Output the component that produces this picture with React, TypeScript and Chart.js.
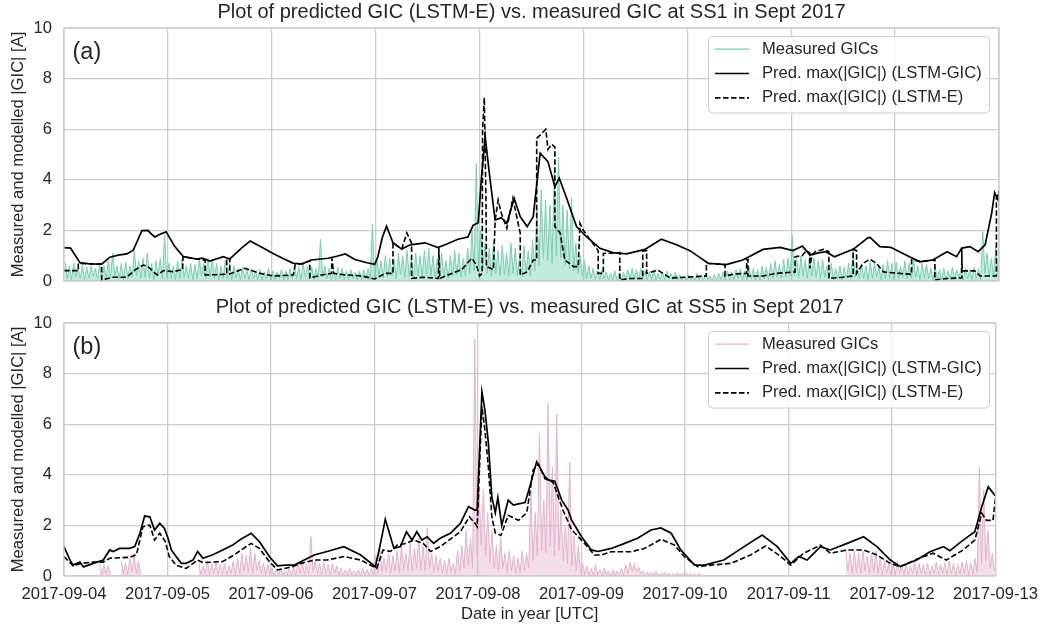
import React, { useEffect, useRef } from 'react';
import { Chart, registerables } from 'chart.js';

Chart.register(...registerables);

const N = null;

// x axis: hours since 2017-09-04 00:00 UTC
const tickLabels = ['2017-09-04', '2017-09-05', '2017-09-06', '2017-09-07', '2017-09-08', '2017-09-09', '2017-09-10', '2017-09-11', '2017-09-12', '2017-09-13'];

// ---- SS1 measured |GIC| (hourly peak / trough envelope) ----
const ss1MeasuredPeaks = [
  0.75, 0.6, 0.7, 0.5, 0.65, 0.55, 0.6, 0.5,
  0.7, 0.6, 0.8, 1.1, 0.6, 0.7, 0.75, 0.6,
  1.2, 0.8, 0.9, 1.1, 0.7, 0.8, 0.9, 1.8,
  0.7, 0.6, 0.8, 0.85, 0.6, 0.7, 0.65, 0.9,
  0.7, 0.9, 0.85, 0.7, 0.6, 0.8, 0.7, 0.6,
  0.5, 0.55, 0.45, 0.5, 0.4, 0.45, 0.35, 0.5,
  0.4, 0.35, 0.45, 0.4, 0.5, 0.6, 0.55, 0.7,
  0.6, 0.55, 0.5, 1.65, 0.6, 0.5, 0.45, 0.55,
  0.5, 0.4, 0.45, 0.35, 0.4, 0.45, 0.5, 2.25,
  0.9, 0.8, 1.0, 0.9, 0.85, 1.1, 1.0, 1.2,
  0.9, 1.1, 1.0, 1.2, 1.3, 1.0, 0.9, 1.1,
  0.8, 1.0, 1.2, 1.1, 0.9, 1.3, 2.0, 4.65,
  2.0, 1.5, 1.3, 1.6, 1.2, 1.4, 1.1, 1.5,
  1.3, 1.0, 1.4, 1.2, 1.6, 2.8, 3.6, 3.2,
  3.0, 4.3, 4.9, 3.0, 2.8, 3.3, 1.5, 1.0,
  0.8, 0.6, 0.5, 0.4, 0.45, 0.35, 0.3, 0.4,
  0.3, 0.35, 0.45, 0.5, 0.45, 0.5, 0.4, 0.35,
  0.45, 0.3, 0.35, 0.4, 0.3, 0.35, 0.25, 0.2,
  0.25, 0.2, 0.3, 0.25, 0.3, 0.2, 0.25, 0.3,
  0.35, 0.4, 0.35, 0.45, 0.5, 0.4, 0.55, 0.5,
  0.45, 0.6, 0.55, 0.7, 0.8, 0.65, 0.85, 0.9,
  1.8, 0.9, 1.0, 0.85, 1.1, 0.9, 0.8, 0.85,
  0.6, 0.7, 0.5, 0.6, 0.55, 0.7, 1.2, 0.6,
  0.7, 0.6, 0.8, 0.7, 0.55, 0.65, 0.8, 0.7,
  0.75, 0.6, 0.8, 0.7, 0.85, 0.6, 0.7, 0.65,
  0.5, 0.55, 0.45, 0.5, 0.4, 0.55, 0.45, 0.5,
  0.5, 0.45, 0.55, 0.5, 1.95, 1.1, 0.9, 1.35,
];
const ss1MeasuredTroughs = [
  0.1, 0.05, 0.15, 0.1, 0.05, 0.1, 0.2, 0.1, 0.05, 0.1, 0.15, 0.2, 0.1, 0.05, 0.1, 0.15, 0.2, 0.1, 0.15, 0.1, 0.05, 0.2, 0.1, 0.15,
  0.1, 0.05, 0.1, 0.15, 0.1, 0.05, 0.1, 0.2, 0.1, 0.15, 0.1, 0.05, 0.1, 0.1, 0.05, 0.1, 0.05, 0.1, 0.05, 0.1, 0.05, 0.05, 0.1, 0.05,
  0.05, 0.1, 0.05, 0.05, 0.1, 0.1, 0.05, 0.15, 0.1, 0.05, 0.1, 0.15, 0.1, 0.05, 0.05, 0.1, 0.05, 0.05, 0.1, 0.05, 0.05, 0.1, 0.05, 0.1,
  0.2, 0.1, 0.15, 0.2, 0.1, 0.25, 0.15, 0.2, 0.1, 0.2, 0.15, 0.25, 0.2, 0.1, 0.15, 0.2, 0.1, 0.2, 0.25, 0.15, 0.2, 0.3, 0.4, 0.6,
  0.5, 0.3, 0.2, 0.3, 0.2, 0.25, 0.2, 0.3, 0.2, 0.15, 0.3, 0.2, 0.4, 0.6, 0.9, 0.8, 0.7, 1.0, 0.9, 0.6, 0.5, 0.4, 0.3, 0.2,
  0.1, 0.1, 0.05, 0.05, 0.1, 0.05, 0.05, 0.05, 0.05, 0.05, 0.1, 0.1, 0.05, 0.1, 0.05, 0.05, 0.05, 0.05, 0.05, 0.1, 0.05, 0.05, 0.02, 0.02,
  0.02, 0.02, 0.05, 0.02, 0.05, 0.02, 0.02, 0.05, 0.05, 0.05, 0.05, 0.1, 0.05, 0.05, 0.1, 0.05, 0.05, 0.1, 0.05, 0.1, 0.15, 0.1, 0.15, 0.2,
  0.2, 0.15, 0.2, 0.1, 0.2, 0.15, 0.1, 0.15, 0.1, 0.05, 0.1, 0.05, 0.1, 0.1, 0.15, 0.1, 0.1, 0.05, 0.1, 0.15, 0.05, 0.1, 0.1, 0.05,
  0.1, 0.15, 0.1, 0.1, 0.15, 0.05, 0.1, 0.1, 0.05, 0.1, 0.05, 0.05, 0.1, 0.05, 0.1, 0.05, 0.1, 0.05, 0.1, 0.05, 0.3, 0.2, 0.15, 0.3,
];

// ---- SS1 predictions ----
const ss1GicHours = [0, 1.5, 3.7, 6, 8.7, 10.6, 12.5, 14.5, 16, 17, 18, 19.4, 20.2, 21, 22.2, 23.6, 25.6, 27.6, 30.6, 32, 33.7, 36.8, 38.3, 41, 43, 45.5, 48.3, 50.5, 53, 55, 57.2, 61, 63, 65, 67.2, 70, 71.8, 72.5, 73.5, 74.5, 76, 78, 80, 83.4, 86.4, 89, 91, 93.3, 94.5, 95.7, 96.4, 97.3, 98.3, 99.6, 101, 102.3, 104, 105.4, 107, 108.4, 109.2, 110, 111.8, 113.4, 114.4, 116, 118.4, 120.7, 123.8, 126.8, 130, 134.2, 138, 141.5, 144.6, 148.8, 153, 156.8, 161.5, 165.4, 168.4, 170.6, 172.3, 174, 176, 178, 182.3, 185.7, 186.2, 188.5, 191, 193.8, 197.7, 200.7, 204, 206.2, 207.4, 209.3, 211.2, 212.8, 214.3, 215, 215.8, 216];
const ss1GicValues = [1.32, 1.3, 0.72, 0.68, 0.67, 0.94, 1.02, 1.07, 1.22, 1.6, 1.99, 2.0, 1.85, 1.74, 1.85, 1.94, 1.36, 0.96, 0.87, 0.9, 0.79, 0.96, 0.87, 1.3, 1.58, 1.35, 1.09, 0.9, 0.7, 0.68, 0.83, 0.9, 0.98, 1.07, 0.85, 0.72, 0.66, 0.96, 1.7, 2.17, 1.51, 1.26, 1.43, 1.51, 1.32, 1.5, 1.65, 1.74, 2.2, 2.3, 4.0, 5.7, 4.2, 2.41, 2.5, 2.28, 3.27, 2.54, 2.15, 2.54, 3.8, 5.05, 4.72, 3.73, 4.07, 3.33, 2.15, 1.75, 1.29, 1.12, 1.07, 1.25, 1.65, 1.43, 1.2, 0.7, 0.65, 0.83, 1.25, 1.33, 1.2, 1.38, 1.03, 1.1, 1.16, 0.96, 1.25, 1.71, 1.72, 1.36, 1.33, 1.09, 0.76, 0.83, 1.16, 0.96, 1.3, 1.36, 1.16, 1.43, 2.67, 3.49, 3.2, 3.55];
const ss1EHours = [0, 3.3, 3.3, 6, 8.7, 8.7, 11.3, 14.5, 16.5, 18.3, 19.4, 21.5, 23, 25.2, 27.4, 27.5, 30.6, 32.6, 32.6, 35, 37.6, 37.6, 38.3, 38.3, 41.8, 45.3, 48.3, 53, 53.4, 55, 56.8, 56.8, 59.5, 61.8, 61.9, 62.3, 65, 68.8, 71.8, 74.2, 76, 76, 78, 79.2, 80.3, 80.3, 83, 86.5, 86.6, 86.8, 89.6, 91.9, 94.2, 95.3, 96, 96.6, 96.7, 97.1, 97.5, 97.6, 99.2, 99.6, 100.3, 101, 102.3, 103.7, 105.4, 105.4, 107, 108.4, 109.2, 109.2, 110.2, 111.3, 111.8, 112.7, 113.4, 113.4, 114.6, 115.7, 117.7, 118.8, 119.2, 120, 123.4, 123.4, 124.6, 124.6, 128.4, 128.4, 131, 133.7, 133.7, 134.6, 134.6, 137.2, 140, 143.8, 148.4, 148.4, 152.7, 152.7, 155, 157.7, 157.7, 158, 158, 161.5, 164.6, 168.9, 168.9, 170.5, 171.5, 172.3, 172.3, 172.7, 173.5, 175.4, 176.7, 176.7, 180, 182.3, 182.3, 183.1, 183.1, 184.6, 186.2, 187.7, 189.3, 193.1, 195.8, 195.8, 198, 201.2, 201.2, 204, 207.4, 207.4, 207.5, 210.4, 211.6, 214.6, 215.4, 215.4, 216];
const ss1EValues = [0.41, 0.41, 0.7, 0.68, 0.67, 0.04, 0.15, 0.15, 0.45, 0.63, 0.57, 0.24, 0.41, 0.37, 0.45, 0.96, 0.87, 0.82, 0.24, 0.25, 0.27, 0.9, 0.87, 0.28, 0.5, 0.3, 0.2, 0.24, 0.63, 0.68, 0.8, 0.12, 0.24, 0.3, 0.9, 0.3, 0.24, 0.2, 0.08, 0.3, 0.3, 1.51, 1.26, 1.9, 1.5, 0.1, 0.15, 0.1, 1.3, 0.1, 0.3, 0.45, 0.9, 0.63, 0.2, 0.3, 6.0, 7.25, 3.0, 0.57, 0.45, 2.4, 3.2, 2.7, 2.08, 3.27, 1.88, 0.24, 0.36, 0.83, 0.83, 5.64, 5.8, 6.0, 5.2, 5.4, 5.3, 2.15, 1.9, 0.83, 0.57, 0.57, 2.28, 2.0, 1.2, 0.3, 0.3, 1.09, 1.12, 0.04, 0.1, 0.1, 1.19, 1.2, 0.3, 0.43, 0.12, 0.15, 0.2, 0.7, 0.65, 0.2, 0.28, 0.3, 0.85, 0.85, 0.2, 0.2, 0.3, 0.36, 0.96, 1.0, 1.2, 1.1, 0.5, 0.96, 1.16, 1.25, 1.16, 0.1, 0.15, 0.2, 1.25, 1.2, 0.3, 0.7, 0.86, 0.7, 0.36, 0.3, 0.26, 0.83, 0.78, 0.83, 0.04, 0.1, 0.12, 1.3, 0.4, 0.4, 0.2, 0.2, 0.2, 3.3, 3.55];

// ---- SS5 measured |GIC| (hourly peak / trough envelope, null = no data) ----
const ss5MeasuredPeaks = [
  N, N, N, N, N, N, N, N,
  0.5, 0.45, 0.4, N, N, 0.6, 0.5, 0.7,
  0.9, 0.6, N, N, N, N, N, N,
  N, N, N, N, N, N, N, 0.5,
  0.4, 0.6, 0.5, 0.55, 0.45, 0.5, 0.4, 0.6,
  0.7, 0.9, 0.8, 1.1, 0.9, 0.6, 0.5, 0.45,
  0.3, 0.25, 0.3, 0.2, 0.3, 0.35, 0.5, 0.6,
  0.5, 1.55, 0.6, 0.5, 0.55, 0.45, 0.5, 0.4,
  0.3, 0.25, 0.3, 0.2, 0.25, 0.3, 0.25, 0.3,
  0.8, 1.1, 0.7, 0.9, 0.8, 1.0, 1.2, 0.9,
  1.3, 1.1, 1.5, 1.2, 1.9, 0.9, 0.8, 0.7,
  0.6, 0.7, 0.5, 1.0, 1.2, 1.8, 1.5, 9.35,
  3.5, 3.4, 2.5, 1.8, 1.2, 1.5, 0.9, 1.0,
  0.8, 0.7, 1.0, 0.9, 3.4, 2.5, 5.6, 3.0,
  6.8, 4.3, 6.4, 2.6, 2.0, 4.5, 1.6, 1.2,
  0.5, 0.4, 0.3, 0.45, 0.25, 0.3, 0.2, 0.25,
  0.2, 0.3, 0.45, 0.55, 0.5, 0.35, 0.2, 0.15,
  0.15, 0.2, 0.1, 0.15, 0.12, 0.1, 0.15, 0.1,
  0.12, 0.1, 0.08, 0.1, N, N, N, N,
  N, N, N, N, N, N, N, N,
  N, N, N, N, N, N, N, N,
  N, N, N, N, N, N, N, N,
  N, N, N, N, N, 1.1, 0.9, 1.0,
  0.9, 1.0, 0.8, 0.9, 1.0, 0.7, 0.6, 0.5,
  0.5, 0.6, 0.45, 0.5, 0.4, 0.55, 0.5, 0.45,
  0.5, 0.4, 0.55, 0.45, 0.5, 0.6, 0.5, 0.45,
  0.55, 0.6, 0.5, 0.7, 4.3, 3.4, 1.8, 0.9,
];
const ss5MeasuredTroughs = [
  N, N, N, N, N, N, N, N,
  0.05, 0.1, 0.05, N, N, 0.1, 0.05, 0.15,
  0.1, 0.05, N, N, N, N, N, N,
  N, N, N, N, N, N, N, 0.05,
  0.1, 0.05, 0.1, 0.05, 0.1, 0.05, 0.1, 0.05,
  0.1, 0.2, 0.15, 0.1, 0.2, 0.1, 0.05, 0.1,
  0.02, 0.05, 0.02, 0.05, 0.02, 0.05, 0.1, 0.05,
  0.1, 0.15, 0.1, 0.05, 0.1, 0.05, 0.1, 0.05,
  0.02, 0.05, 0.02, 0.05, 0.02, 0.05, 0.02, 0.05,
  0.1, 0.2, 0.15, 0.1, 0.2, 0.15, 0.25, 0.2,
  0.2, 0.3, 0.25, 0.2, 0.3, 0.15, 0.2, 0.1,
  0.1, 0.15, 0.1, 0.2, 0.3, 0.4, 0.3, 0.8,
  1.2, 0.8, 0.5, 0.3, 0.2, 0.3, 0.15, 0.2,
  0.1, 0.15, 0.2, 0.3, 0.6, 0.8, 1.0, 0.9,
  1.2, 0.8, 1.0, 0.6, 0.5, 0.4, 0.2, 0.15,
  0.05, 0.05, 0.02, 0.05, 0.02, 0.05, 0.02, 0.02,
  0.02, 0.05, 0.1, 0.2, 0.15, 0.1, 0.05, 0.02,
  0.02, 0.02, 0.02, 0.02, 0.02, 0.02, 0.02, 0.02,
  0.02, 0.02, 0.02, 0.02, N, N, N, N,
  N, N, N, N, N, N, N, N,
  N, N, N, N, N, N, N, N,
  N, N, N, N, N, N, N, N,
  N, N, N, N, N, 0.2, 0.1, 0.15,
  0.1, 0.2, 0.1, 0.15, 0.1, 0.05, 0.1, 0.05,
  0.05, 0.1, 0.05, 0.05, 0.1, 0.05, 0.1, 0.05,
  0.05, 0.1, 0.05, 0.1, 0.05, 0.1, 0.05, 0.1,
  0.1, 0.05, 0.1, 0.15, 0.5, 0.6, 0.3, 0.2,
];

// ---- SS5 predictions ----
const ss5GicHours = [0, 1.4, 2.1, 3.7, 4.5, 6.8, 9.1, 10.6, 11.4, 12.9, 15.2, 16.4, 17.6, 18.7, 19.9, 21, 22.2, 23.3, 24.1, 24.9, 26, 27.2, 28.3, 29.9, 31, 32.2, 34.5, 36.8, 39.1, 41, 43.4, 45.3, 47.6, 49.5, 51.4, 53.4, 55.7, 58, 61, 64.9, 68.8, 72.2, 73.4, 74.5, 75.7, 76.5, 78, 79.4, 80.7, 81.8, 83, 84.2, 85.7, 87.2, 89.6, 91.9, 93.8, 95.3, 95.8, 96.9, 97.6, 98.4, 99.2, 100, 100.6, 101.5, 103, 104.2, 105.4, 106.9, 108, 109.6, 111.5, 112.3, 113.8, 115.4, 116.9, 117.7, 120, 122.3, 123.8, 126.9, 130, 133, 136.1, 138.4, 140.8, 143, 146.2, 148.5, 153, 157.7, 161.9, 165.4, 168.5, 170.4, 172.3, 175.4, 177.7, 181.6, 185.4, 188.5, 191.6, 193.9, 197.7, 200.8, 203.9, 205.4, 208.5, 211.2, 212.8, 214.3, 215.8, 216];
const ss5GicValues = [1.16, 0.63, 0.43, 0.55, 0.36, 0.5, 0.63, 1.03, 0.97, 1.09, 1.09, 1.16, 1.69, 2.37, 2.34, 1.82, 2.08, 1.88, 1.5, 1.03, 0.77, 0.5, 0.5, 0.63, 0.97, 0.7, 0.84, 1.03, 1.22, 1.45, 1.69, 1.36, 0.77, 0.4, 0.43, 0.43, 0.63, 0.83, 0.97, 1.16, 0.83, 0.37, 1.3, 2.24, 1.55, 1.09, 1.16, 1.75, 1.42, 1.75, 1.42, 1.55, 1.29, 1.49, 1.69, 2.08, 2.74, 2.6, 2.6, 7.28, 6.56, 5.25, 3.13, 2.5, 3.1, 2.0, 3.0, 2.8, 2.85, 2.9, 3.53, 4.52, 3.93, 3.8, 3.75, 3.0, 2.6, 2.21, 1.55, 1.03, 0.97, 1.09, 1.29, 1.49, 1.82, 1.9, 1.69, 1.03, 0.43, 0.43, 0.63, 1.16, 1.62, 1.16, 0.5, 0.77, 0.63, 1.16, 1.03, 1.29, 1.55, 1.16, 0.63, 0.37, 0.63, 0.96, 1.16, 1.0, 1.42, 1.75, 2.74, 3.53, 3.2, 3.2];
const ss5EHours = [0, 2.1, 4, 6.8, 9.1, 10.6, 15.2, 16.8, 18.3, 19.9, 21, 22.2, 23.5, 24.4, 26, 28.3, 31, 32.2, 36.8, 39.1, 43.4, 45.3, 47.6, 49.5, 53, 55, 58, 61, 65, 68.8, 72.5, 74, 75.7, 77.2, 79.4, 81, 83.3, 85, 87.2, 90.3, 91.9, 94, 95.3, 95.8, 96.9, 97.6, 98.4, 99.2, 100, 101.3, 103, 105.4, 107.3, 108.8, 110, 111.5, 113.4, 115.7, 117.7, 120.7, 123, 124.6, 126.9, 131.5, 134.6, 138.4, 141.5, 143.8, 146.9, 150, 154.6, 159.2, 162.7, 166.2, 168.5, 171.5, 175.4, 177.7, 181.6, 185.4, 188.5, 191.6, 193.9, 197.7, 201.5, 204.6, 208.5, 211.2, 212.8, 213.9, 215.4, 216];
const ss5EValues = [0.77, 0.4, 0.5, 0.55, 0.55, 0.7, 0.74, 0.84, 1.95, 2.01, 1.42, 1.69, 1.36, 0.77, 0.43, 0.3, 0.63, 0.53, 0.57, 0.8, 1.29, 1.09, 0.57, 0.24, 0.37, 0.5, 0.63, 0.63, 0.77, 0.63, 0.3, 1.03, 0.97, 1.22, 1.29, 1.42, 1.29, 0.97, 1.16, 1.55, 1.75, 2.34, 2.08, 1.95, 6.7, 5.77, 4.3, 2.34, 1.7, 1.6, 2.4, 2.2, 2.5, 4.2, 4.43, 3.85, 3.7, 2.6, 1.83, 1.29, 0.83, 0.83, 0.96, 0.96, 1.09, 1.45, 1.23, 0.77, 0.37, 0.43, 0.5, 0.83, 1.19, 0.77, 0.43, 0.9, 1.22, 0.9, 1.03, 1.03, 0.83, 0.5, 0.37, 0.66, 0.9, 0.63, 1.03, 1.42, 2.48, 2.2, 2.2, 3.13];

const FONT = "'Liberation Sans', Arial, sans-serif";
const TEXT = '#262626';
const GRID = '#cccccc';
const TEAL = '#79cdb1';
const TEAL_FILL = 'rgba(121,205,177,0.45)';
const PINK = '#e2b3cc';
const PINK_FILL = 'rgba(226,179,204,0.45)';

type Pt = { x: number; y: number | null };

function measuredPoints(peaks: (number | null)[], troughs: (number | null)[]): Pt[] {
  const pts: Pt[] = [];
  for (let i = 0; i < peaks.length; i++) {
    pts.push({ x: i + 0.25, y: peaks[i] });
    pts.push({ x: i + 0.75, y: troughs[i] ?? null });
  }
  return pts;
}

function zip(hours: number[], values: number[]): Pt[] {
  return hours.map((h, i) => ({ x: h, y: values[i] }));
}

interface PanelSpec {
  title: string;
  letter: string;
  color: string;
  fillColor: string;
  peaks: (number | null)[];
  troughs: (number | null)[];
  gicH: number[];
  gicV: number[];
  eH: number[];
  eV: number[];
}

const panels: PanelSpec[] = [
  {
    title: 'Plot of predicted GIC (LSTM-E) vs. measured GIC at SS1 in Sept 2017',
    letter: '(a)', color: TEAL, fillColor: TEAL_FILL,
    peaks: ss1MeasuredPeaks, troughs: ss1MeasuredTroughs,
    gicH: ss1GicHours, gicV: ss1GicValues, eH: ss1EHours, eV: ss1EValues,
  },
  {
    title: 'Plot of predicted GIC (LSTM-E) vs. measured GIC at SS5 in Sept 2017',
    letter: '(b)', color: PINK, fillColor: PINK_FILL,
    peaks: ss5MeasuredPeaks, troughs: ss5MeasuredTroughs,
    gicH: ss5GicHours, gicV: ss5GicValues, eH: ss5EHours, eV: ss5EValues,
  },
];

const DASH = [5.5, 2.5];

function buildConfig(p: PanelSpec, showX: boolean, padTop: number, xHeight: number): any {
  const decor = {
    id: 'decor',
    afterDatasetsDraw(chart: any) {
      const { ctx, chartArea: a } = chart;
      ctx.save();
      ctx.strokeStyle = GRID;
      ctx.lineWidth = 1.3;
      ctx.strokeRect(a.left, a.top, a.right - a.left, a.bottom - a.top);
      ctx.restore();
    },
    afterDraw(chart: any) {
      const { ctx, chartArea: a } = chart;
      ctx.save();
      // title
      ctx.fillStyle = TEXT;
      ctx.font = `20px ${FONT}`;
      ctx.textAlign = 'center';
      ctx.textBaseline = 'alphabetic';
      ctx.fillText(p.title, (a.left + a.right) / 2, a.top - 10);
      // panel letter
      ctx.font = `23.5px ${FONT}`;
      ctx.textAlign = 'left';
      ctx.textBaseline = 'middle';
      ctx.fillText(p.letter, a.left + 8.5, a.top + 24.5);
      // legend
      const bx = 708.5, by = a.top + 8.5, bw = 281, bh = 76.5, r = 4;
      ctx.beginPath();
      ctx.moveTo(bx + r, by);
      ctx.lineTo(bx + bw - r, by);
      ctx.quadraticCurveTo(bx + bw, by, bx + bw, by + r);
      ctx.lineTo(bx + bw, by + bh - r);
      ctx.quadraticCurveTo(bx + bw, by + bh, bx + bw - r, by + bh);
      ctx.lineTo(bx + r, by + bh);
      ctx.quadraticCurveTo(bx, by + bh, bx, by + bh - r);
      ctx.lineTo(bx, by + r);
      ctx.quadraticCurveTo(bx, by, bx + r, by);
      ctx.closePath();
      ctx.fillStyle = 'rgba(255,255,255,0.8)';
      ctx.fill();
      ctx.strokeStyle = GRID;
      ctx.lineWidth = 1;
      ctx.stroke();
      const rows = [
        { color: p.color, dash: [] as number[], lw: 1.2, label: 'Measured GICs' },
        { color: '#000000', dash: [] as number[], lw: 1.7, label: 'Pred. max(|GIC|) (LSTM-GIC)' },
        { color: '#000000', dash: DASH, lw: 1.7, label: 'Pred. max(|GIC|) (LSTM-E)' },
      ];
      ctx.font = `16.6px ${FONT}`;
      rows.forEach((row, i) => {
        const cy = a.top + 21.2 + i * 24.3;
        ctx.beginPath();
        ctx.setLineDash(row.dash);
        ctx.strokeStyle = row.color;
        ctx.lineWidth = row.lw;
        ctx.moveTo(715, cy);
        ctx.lineTo(749, cy);
        ctx.stroke();
        ctx.setLineDash([]);
        ctx.fillStyle = TEXT;
        ctx.fillText(row.label, 762, cy);
      });
      ctx.restore();
    },
  };

  return {
    type: 'line',
    data: {
      datasets: [
        {
          label: 'Measured GICs',
          data: measuredPoints(p.peaks, p.troughs),
          borderColor: p.color,
          backgroundColor: p.fillColor,
          fill: 'origin',
          borderWidth: 1,
          pointRadius: 0,
          tension: 0,
          spanGaps: false,
          order: 3,
        },
        {
          label: 'Pred. max(|GIC|) (LSTM-GIC)',
          data: zip(p.gicH, p.gicV),
          borderColor: '#000000',
          borderWidth: 1.7,
          pointRadius: 0,
          tension: 0,
          fill: false,
          order: 2,
        },
        {
          label: 'Pred. max(|GIC|) (LSTM-E)',
          data: zip(p.eH, p.eV),
          borderColor: '#000000',
          borderWidth: 1.6,
          borderDash: DASH,
          pointRadius: 0,
          tension: 0,
          fill: false,
          order: 1,
        },
      ],
    },
    options: {
      animation: false,
      responsive: false,
      events: [],
      parsing: false,
      layout: { padding: { left: 0, right: 47, top: padTop, bottom: 0 } },
      plugins: { legend: { display: false }, tooltip: { enabled: false }, title: { display: false } },
      scales: {
        x: {
          type: 'linear',
          min: 0,
          max: 216,
          afterFit: (s: any) => { s.height = xHeight; },
          afterBuildTicks: (s: any) => {
            s.ticks = tickLabels.map((_, i) => ({ value: i * 24 }));
          },
          grid: { color: GRID, lineWidth: 1.3, drawTicks: false },
          border: { display: false },
          ticks: {
            display: showX,
            autoSkip: false,
            maxRotation: 0,
            padding: 8,
            color: TEXT,
            font: { family: FONT, size: 16.6 },
            callback: (v: any) => tickLabels[Math.round(Number(v) / 24)] ?? '',
          },
          title: {
            display: showX,
            text: 'Date in year [UTC]',
            color: TEXT,
            font: { family: FONT, size: 16.6 },
            padding: { top: 0, bottom: 5 },
          },
        },
        y: {
          min: 0,
          max: 10,
          afterFit: (s: any) => { s.width = 64; },
          grid: { color: GRID, lineWidth: 1.3, drawTicks: true, tickLength: 12, tickColor: 'rgba(0,0,0,0)' },
          border: { display: false },
          ticks: {
            stepSize: 2,
            padding: 0,
            color: TEXT,
            font: { family: FONT, size: 16.6 },
          },
          title: {
            display: true,
            text: 'Measured and modelled |GIC| [A]',
            color: TEXT,
            font: { family: FONT, size: 16.6 },
            padding: { top: 8.5, bottom: 0 },
          },
        },
      },
    },
    plugins: [decor],
  };
}

export default function App() {
  const topRef = useRef<HTMLCanvasElement | null>(null);
  const botRef = useRef<HTMLCanvasElement | null>(null);

  useEffect(() => {
    const charts: Chart[] = [];
    if (topRef.current) charts.push(new Chart(topRef.current, buildConfig(panels[0], false, 28, 19)));
    if (botRef.current) charts.push(new Chart(botRef.current, buildConfig(panels[1], true, 38, 53)));
    return () => charts.forEach((c) => c.destroy());
  }, []);

  return (
    <div style={{ position: 'absolute', left: 0, top: 0, width: 1046, height: 629, background: '#ffffff' }}>
      <canvas ref={topRef} width={1046} height={300} style={{ position: 'absolute', left: 0, top: 0, width: 1046, height: 300 }} />
      <canvas ref={botRef} width={1046} height={344} style={{ position: 'absolute', left: 0, top: 285, width: 1046, height: 344 }} />
    </div>
  );
}
